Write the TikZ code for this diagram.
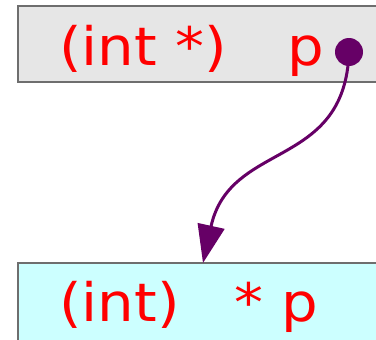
\documentclass[tikz,border=0pt]{standalone}
\usepackage{fontspec}
\setmainfont[FakeStretch=1.09]{DejaVu Sans}
\usetikzlibrary{arrows.meta}
\definecolor{ptrpurple}{HTML}{660066}
\definecolor{boxgray}{HTML}{E6E6E6}
\definecolor{boxcyan}{HTML}{CCFFFF}
\definecolor{edgegray}{HTML}{6E6E6E}
\tikzset{
  membox/.style={draw=edgegray, line width=1.5pt, rectangle},
  codetext/.style={text=red, font=\fontsize{53}{60}\selectfont, inner sep=0pt, anchor=base west},
  pointer/.style={draw=ptrpurple, line width=3pt, -{Triangle[length=38pt,width=27pt]}}
}
\begin{document}
\begin{tikzpicture}[x=1pt,y=-1pt]
\clip (0,0) rectangle (376,340);
\fill[white] (0,0) rectangle (376,340);
\draw[membox, fill=boxgray] (18,6) rectangle (400,82);
\draw[membox, fill=boxcyan] (18,263) rectangle (400,360);
\node[codetext] (t1) at (59,65) {(int *)};
\node[codetext] (t2) at (287,65) {p};
\node[codetext] (b1) at (59,322) {(int)};
\node[codetext] (b2) at (234,322) {* p};
\node[circle, fill=ptrpurple, minimum size=28pt, inner sep=0pt] (dot) at (349,52) {};
\coordinate (tgt) at (203,263);
\draw[pointer] (dot.center) .. controls (345,170) and (230,140) .. (tgt);
\end{tikzpicture}
\end{document}
